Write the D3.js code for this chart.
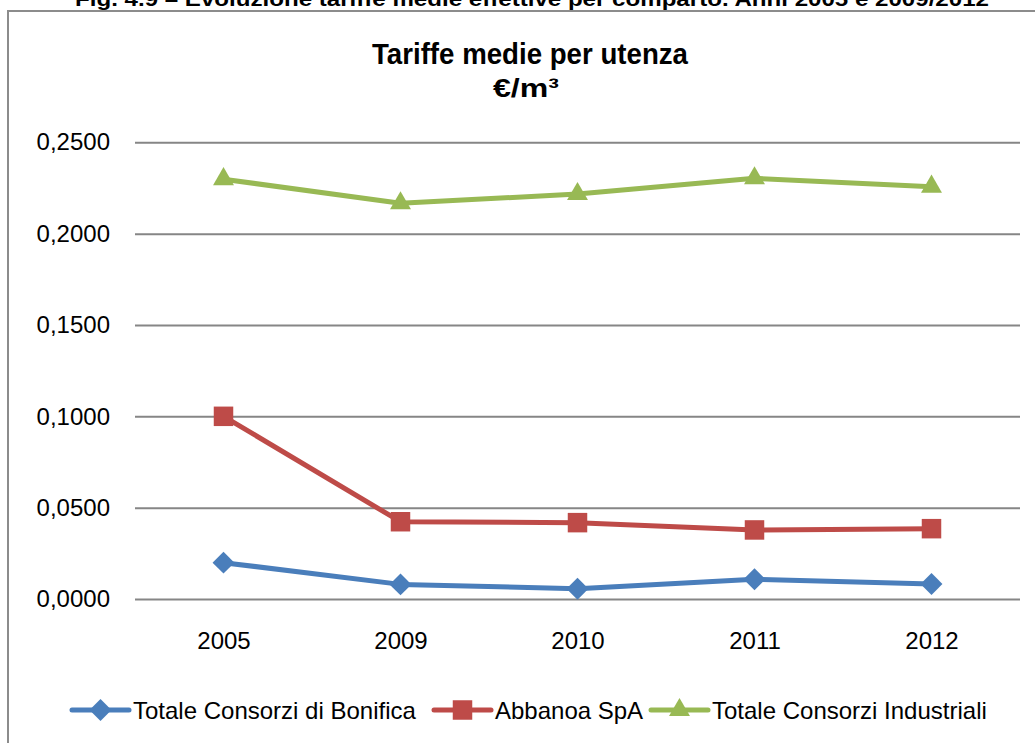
<!DOCTYPE html>
<html>
<head>
<meta charset="utf-8">
<script src="https://cdn.jsdelivr.net/npm/d3@7"></script>
<style>
  html, body { margin: 0; padding: 0; background: #fff; }
  svg { display: block; font-family: "Liberation Sans", Arial, sans-serif; }
</style>
</head>
<body>
<div id="chart"></div>
<script>
// data
const years = ['2005', '2009', '2010', '2011', '2012']
const bonifica = [0.0199, 0.0080, 0.0056, 0.0108, 0.0082]
const abbanoa = [0.1000, 0.0423, 0.0418, 0.0378, 0.0385]
const industriali = [0.2298, 0.2166, 0.2217, 0.2303, 0.2257]
const yTicks = [0, 0.05, 0.10, 0.15, 0.20, 0.25]

const seriesNames = ['Totale Consorzi di Bonifica', 'Abbanoa SpA', 'Totale Consorzi Industriali']
const seriesColors = ['#4a7ebb', '#be4b48', '#98b954']
const seriesValues = [bonifica, abbanoa, industriali]

const width = 1035
const height = 743
const plot = { left: 135, right: 1020, top: 142.3, bottom: 599 }

const svg = d3.select('#chart')
    .append('svg')
    .attr('width', width)
    .attr('height', height)
    .attr('viewBox', `0 0 ${width} ${height}`)

const x = d3.scalePoint().domain(years).range([plot.left, plot.right]).padding(0.5)
const y = d3.scaleLinear().domain([0, 0.25]).range([plot.bottom, plot.top])

const fmt = v => d3.format('.4f')(v).replace('.', ',')

// markers: diamond, square, triangle
const markerPath = [
    d3.symbol().type(d3.symbolSquare).size(240)(),
    d3.symbol().type(d3.symbolSquare).size(380)(),
    d3.symbol().type(d3.symbolTriangle).size(190)()
]
const markerRotate = [45, 0, 0]

function drawMarker(g, i, cx, cy) {
    g.append('path')
        .attr('d', markerPath[i])
        .attr('transform', `translate(${cx},${cy}) rotate(${markerRotate[i]})`)
        .attr('fill', seriesColors[i])
}

// caption above the frame (cut off at the top, as in the source page)
svg.append('text')
    .attr('x', 532)
    .attr('y', 6)
    .attr('text-anchor', 'middle')
    .attr('font-weight', 'bold')
    .attr('font-size', 20)
    .attr('textLength', 914)
    .attr('lengthAdjust', 'spacingAndGlyphs')
    .text('Fig. 4.9 – Evoluzione tariffe medie effettive per comparto. Anni 2005 e 2009/2012')

// chart frame
svg.append('rect')
    .attr('x', 8)
    .attr('y', 11)
    .attr('width', 1100)
    .attr('height', 800)
    .attr('fill', 'none')
    .attr('stroke', '#8c8c8c')
    .attr('stroke-width', 2)

// title
svg.append('text')
    .attr('x', 530)
    .attr('y', 64)
    .attr('text-anchor', 'middle')
    .attr('font-weight', 'bold')
    .attr('font-size', 29)
    .attr('textLength', 316)
    .attr('lengthAdjust', 'spacingAndGlyphs')
    .text('Tariffe medie per utenza')

svg.append('text')
    .attr('x', 526)
    .attr('y', 97)
    .attr('text-anchor', 'middle')
    .attr('font-weight', 'bold')
    .attr('font-size', 26)
    .attr('textLength', 66)
    .attr('lengthAdjust', 'spacingAndGlyphs')
    .text('€/m³')

// gridlines + y labels
const yAxis = d3.axisLeft(y)
    .tickValues(yTicks)
    .tickSize(-(plot.right - plot.left))
    .tickPadding(25)
    .tickFormat(fmt)

const gy = svg.append('g')
    .attr('transform', `translate(${plot.left},0)`)
    .call(yAxis)
gy.select('.domain').remove()
gy.selectAll('.tick line').attr('stroke', '#868686').attr('stroke-width', 2)
gy.selectAll('.tick text')
    .attr('font-size', 24)
    .attr('font-family', '"Liberation Sans", Arial, sans-serif')
    .attr('fill', '#000')

// x labels
const xAxis = d3.axisBottom(x).tickSize(0).tickPadding(33)
const gx = svg.append('g')
    .attr('transform', `translate(0,${plot.bottom})`)
    .call(xAxis)
gx.select('.domain').remove()
gx.selectAll('.tick text')
    .attr('font-size', 24)
    .attr('font-family', '"Liberation Sans", Arial, sans-serif')
    .attr('fill', '#000')

// series
const line = d3.line()
    .x((d, i) => x(years[i]))
    .y(d => y(d))

seriesValues.forEach((vals, i) => {
    const g = svg.append('g')
    g.append('path')
        .datum(vals)
        .attr('d', line)
        .attr('fill', 'none')
        .attr('stroke', seriesColors[i])
        .attr('stroke-width', 5)
        .attr('stroke-linejoin', 'round')
    vals.forEach((v, j) => drawMarker(g, i, x(years[j]), y(v)))
})

// legend
const legendX = [72, 434, 651]
const legendY = 710
seriesNames.forEach((name, i) => {
    const g = svg.append('g')
    g.append('line')
        .attr('x1', legendX[i]).attr('x2', legendX[i] + 57)
        .attr('y1', legendY).attr('y2', legendY)
        .attr('stroke', seriesColors[i])
        .attr('stroke-width', 5)
        .attr('stroke-linecap', 'round')
    drawMarker(g, i, legendX[i] + 28.5, legendY)
    g.append('text')
        .attr('x', legendX[i] + 61)
        .attr('y', legendY + 8.5)
        .attr('font-size', 24)
        .text(name)
})
</script>
</body>
</html>
